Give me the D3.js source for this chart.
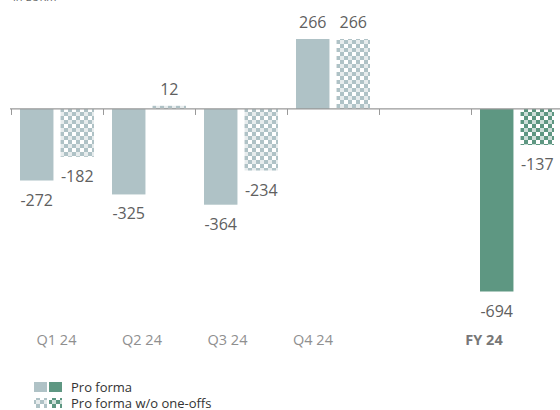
<!DOCTYPE html>
<html><head><meta charset="utf-8">
<script src="https://cdn.jsdelivr.net/npm/d3@7"></script>
<style>body{margin:0;background:#fff}svg{display:block;font-family:"Open Sans",sans-serif}</style>
</head><body><svg id="c" width="560" height="410"></svg>
<script>
const categories = ["Q1 24","Q2 24","Q3 24","Q4 24","","FY 24"];
const proForma = [-272,-325,-364,266,null,-694];
const proFormaWo = [-182,12,-234,266,null,-137];
const seriesNames = ["Pro forma","Pro forma w/o one-offs"];
const unitLabel = "in EURm";

const svg = d3.select("#c");
const gray = "#afc2c6", green = "#5e9782";
const defs = svg.append("defs");
function pat(id,col){
  const p = defs.append("pattern").attr("id",id).attr("width",8).attr("height",8).attr("patternUnits","userSpaceOnUse");
  p.append("rect").attr("width",8).attr("height",8).attr("fill","#fff");
  p.append("rect").attr("x",0).attr("y",0).attr("width",4).attr("height",4).attr("fill",col);
  p.append("rect").attr("x",4).attr("y",4).attr("width",4).attr("height",4).attr("fill",col);
  p.append("rect").attr("x",4).attr("y",0).attr("width",4).attr("height",4).attr("fill",col).attr("opacity",0.3);
}
pat("hg",gray); pat("hgr",green);

const x = d3.scaleBand().domain(categories.map((d,i)=>i)).range([11,563]);
const xs = d3.scaleBand().domain([0,1]).range([9,83]).paddingInner(0.175);
const y = d3.scaleLinear().domain([-694,266]).range([291.5,39]);
const xl = d3.scaleBand().domain(categories.map((d,i)=>i)).range([13.75,526.75]);

svg.append("text").attr("x",13).attr("y",1).attr("font-size",11).attr("fill","#666").text(unitLabel);

const isFY = i => categories[i].startsWith("FY");
const data = [];
categories.forEach((c,i)=>{
  [proForma[i],proFormaWo[i]].forEach((v,s)=>{ if(v!=null) data.push({i,s,v}); });
});

svg.selectAll("rect.bar").data(data).join("rect").attr("class","bar")
  .attr("x",d=>x(d.i)+xs(d.s)).attr("width",xs.bandwidth())
  .attr("y",d=>y(Math.max(0,d.v))).attr("height",d=>Math.abs(y(d.v)-y(0)))
  .attr("fill",d=> d.s===0 ? (isFY(d.i)?green:gray) : (isFY(d.i)?"url(#hgr)":"url(#hg)"));

svg.selectAll("text.val").data(data).join("text").attr("class","val")
  .attr("x",d=>x(d.i)+xs(d.s)+xs.bandwidth()/2)
  .attr("y",d=> d.v>=0 ? y(d.v)-11 : y(d.v)+25)
  .attr("text-anchor","middle").attr("font-size",16).attr("fill","#606060")
  .text(d=>String(d.v));

// axis
svg.append("line").attr("x1",10).attr("x2",560).attr("y1",y(0)).attr("y2",y(0)).attr("stroke","#999").attr("stroke-width",1.2);
svg.selectAll("line.tick").data(categories.map((d,i)=>i)).join("line").attr("class","tick")
  .attr("x1",i=>x(i)+0.5).attr("x2",i=>x(i)+0.5).attr("y1",y(0)).attr("y2",y(0)+6).attr("stroke","#999");

svg.selectAll("text.cat").data(categories).join("text").attr("class","cat")
  .attr("x",(d,i)=>xl(i)+xl.bandwidth()/2).attr("y",345)
  .attr("text-anchor","middle").attr("font-size",14.5)
  .attr("font-weight",(d,i)=>isFY(i)?"bold":"normal")
  .attr("fill",(d,i)=>isFY(i)?"#777":"#8f8f8f").text(d=>d);

// legend
const lg = svg.append("g");
lg.append("rect").attr("x",34).attr("y",382).attr("width",13).attr("height",10).attr("fill",gray);
lg.append("rect").attr("x",49).attr("y",382).attr("width",13).attr("height",10).attr("fill",green);
lg.append("rect").attr("x",34).attr("y",398).attr("width",13).attr("height",10).attr("fill","url(#hg)");
lg.append("rect").attr("x",49).attr("y",398).attr("width",13).attr("height",10).attr("fill","url(#hgr)");
lg.selectAll("text").data(seriesNames).join("text").attr("x",71).attr("y",(d,i)=>392+i*16)
  .attr("font-size",13).attr("fill","#333").text(d=>d);
</script></body></html>
